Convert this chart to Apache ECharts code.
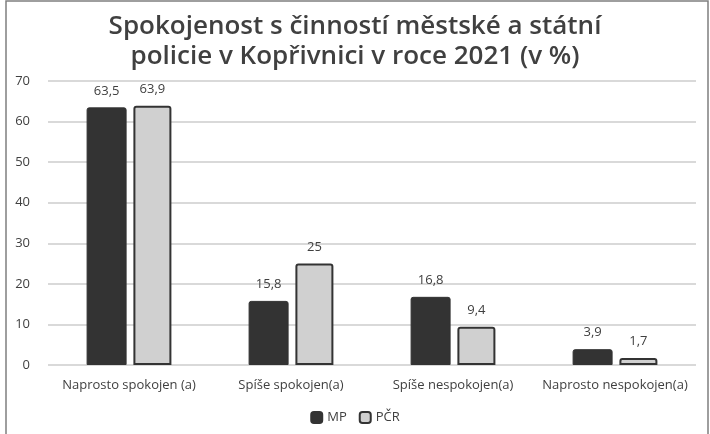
<!DOCTYPE html>
<html><head><meta charset="utf-8">
<script src="https://cdn.jsdelivr.net/npm/echarts@6/dist/echarts.min.js"></script>
<style>html,body{margin:0;padding:0;background:#fff}#c{width:710px;height:434px}</style>
</head><body><div id="c"></div>
<script>
const categories = ["Naprosto spokojen (a)", "Spíše spokojen(a)", "Spíše nespokojen(a)", "Naprosto nespokojen(a)"];
const mpValues = [63.5, 15.8, 16.8, 3.9];
const pcrValues = [63.9, 25, 9.4, 1.7];
const seriesNames = ["MP", "PČR"];
const yTicks = [0, 10, 20, 30, 40, 50, 60, 70];

const chart = echarts.init(document.getElementById('c'));
const txt = '#404040';
const fmt = p => String(p.value).replace('.', ',');
chart.setOption({
  animation: false,
  textStyle: { fontFamily: '"Open Sans", sans-serif' },
  title: {
    text: 'Spokojenost s činností městské a státní\npolicie v Kopřivnici v roce 2021 (v %)',
    left: 'center', top: 7,
    textStyle: { fontSize: 26, fontWeight: 600, color: txt, lineHeight: 30, fontFamily: '"Open Sans", sans-serif' }
  },
  graphic: [{ type: 'rect', shape: { x: 6, y: 1, width: 702, height: 440 }, style: { fill: 'none', stroke: '#7f7f7f', lineWidth: 1.5 }, silent: true }],
  legend: {
    bottom: 5, left: 'center', itemWidth: 11, itemHeight: 11, itemGap: 12,
    textStyle: { fontSize: 13, color: txt },
    data: seriesNames
  },
  grid: { left: 48, right: 14, top: 81, bottom: 69 },
  xAxis: {
    type: 'category', data: categories,
    axisLine: { show: false }, axisTick: { show: false },
    axisLabel: { fontSize: 13, color: txt, margin: 14, interval: 0 }
  },
  yAxis: {
    type: 'value', min: yTicks[0], max: yTicks[yTicks.length - 1], interval: 10,
    axisLabel: { fontSize: 13, color: txt, margin: 18 },
    splitLine: { lineStyle: { color: '#d9d9d9', width: 2 } }
  },
  series: [
    { name: seriesNames[0], type: 'bar', data: mpValues, barWidth: 40, barGap: '17%',
      itemStyle: { color: '#333333', borderColor: '#333333', borderWidth: 1, borderRadius: [2, 2, 0, 0] },
      label: { show: true, position: 'top', distance: 10, fontSize: 13, color: txt, formatter: fmt } },
    { name: seriesNames[1], type: 'bar', data: pcrValues, barWidth: 38,
      itemStyle: { color: '#d0d0d0', borderColor: '#333333', borderWidth: 2, borderRadius: [2, 2, 0, 0] },
      label: { show: true, position: 'top', distance: 10, fontSize: 13, color: txt, formatter: fmt } }
  ]
});
</script></body></html>
